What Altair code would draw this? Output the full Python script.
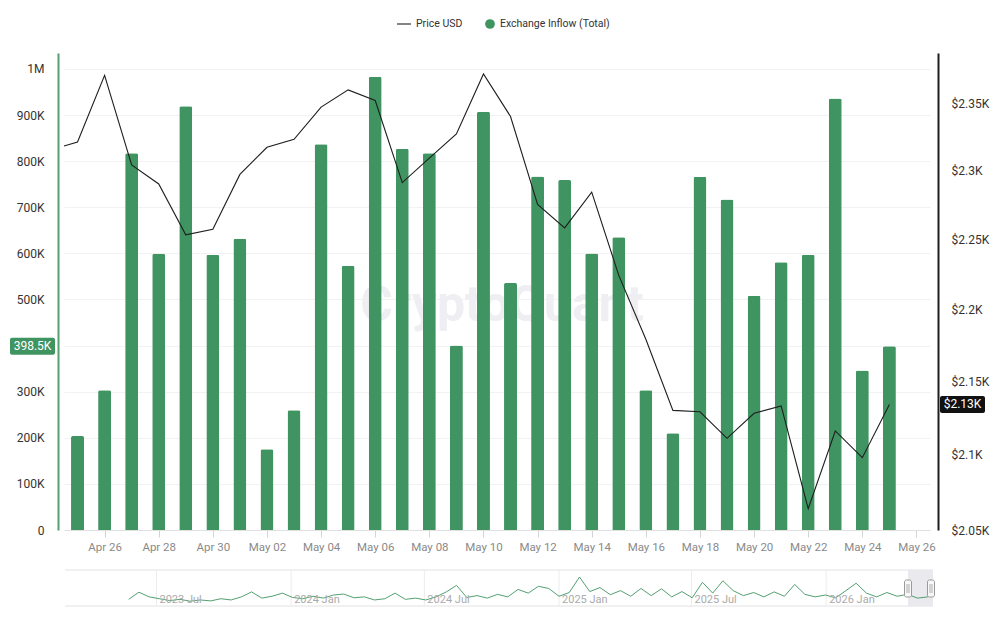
import altair as alt
import pandas as pd

FONT = "Roboto"
GREEN = "#3f9462"

# ---- daily exchange inflow (total) ----
inflow_days = pd.date_range("2026-04-25", "2026-05-25", freq="D").strftime("%Y-%m-%dT00:00:00Z").tolist()
inflow_values = [
    204000, 303000, 817000, 599000, 919000, 597000, 632000, 175000, 260000, 837000,
    573000, 983000, 827000, 817000, 400000, 907000, 536000, 767000, 759000, 600000,
    635000, 303000, 210000, 766000, 717000, 508000, 581000, 597000, 936000, 346000,
    398500,
]

# ---- price (USD) ----
price_times = ["2026-04-24T12:00:00Z"] + inflow_days
price_values = [
    2318, 2321, 2371, 2304, 2290, 2253, 2257, 2297, 2317, 2323, 2347,
    2360, 2352, 2291, 2309, 2327, 2372, 2340, 2275, 2258, 2284, 2224,
    2179, 2130, 2129, 2111, 2128, 2133, 2064, 2116, 2098, 2134,
]

# ---- long-range overview series (thousands) ----
nav_values = [
    375, 950, 575, 425, 275, 375, 225, 325, 250, 425, 325, 575, 975, 475, 625, 875,
    525, 425, 625, 475, 725, 800, 500, 575, 325, 425, 875, 375, 475, 325, 575, 975,
    1500, 525, 675, 475, 775, 575, 1175, 875, 1425, 1250, 625, 925, 2175, 1000, 1325,
    750, 1075, 625, 1250, 675, 1225, 575, 1000, 500, 1750, 875, 1875, 1075, 675, 925,
    575, 975, 625, 1575, 775, 575, 725, 500, 1075, 1675, 875, 575, 925, 625, 775, 475,
    575,
]
nav_times = pd.date_range("2023-05-24", periods=len(nav_values), freq="14D").strftime("%Y-%m-%dT00:00:00Z").tolist()
nav_label_text = ["2023 Jul", "2024 Jan", "2024 Jul", "2025 Jan", "2025 Jul", "2026 Jan"]
nav_label_dates = ["2023-07-01T00:00:00Z", "2024-01-01T00:00:00Z", "2024-07-01T00:00:00Z",
                   "2025-01-01T00:00:00Z", "2025-07-01T00:00:00Z", "2026-01-01T00:00:00Z"]

W, H = 866, 477

inflow_df = pd.DataFrame({"day": inflow_days, "inflow": inflow_values})
price_df = pd.DataFrame({"t": price_times, "price": price_values})
last_inflow = pd.DataFrame({"inflow": [inflow_values[-1]]})
last_price = pd.DataFrame({"price": [price_values[-1]]})
nav_df = pd.DataFrame({"t": nav_times, "v": nav_values})
nav_lab_df = pd.DataFrame({"t": nav_label_dates, "label": nav_label_text})
one = alt.Data(values=[{}])

x_scale = alt.Scale(
    type="utc", padding=0,
    domain=[alt.DateTime(year=2026, month=4, date=24, hours=12, utc=True),
            alt.DateTime(year=2026, month=5, date=26, hours=12, utc=True)],
)
x_ticks = [alt.DateTime(year=2026, month=m, date=d, utc=True)
           for m, d in [(4, 26), (4, 28), (4, 30), (5, 2), (5, 4), (5, 6), (5, 8), (5, 10),
                        (5, 12), (5, 14), (5, 16), (5, 18), (5, 20), (5, 22), (5, 24), (5, 26)]]

inflow_scale = alt.Scale(domain=[0, 1034700], nice=False, zero=True, padding=0)
price_scale = alt.Scale(type="log", domain=[2050, 2388], nice=False)

# ---- inflow bars with left axis (the 400K label sits under the last-value badge) ----
bars = alt.Chart(inflow_df).mark_bar(
    size=13, color=GREEN, cornerRadiusTopLeft=2, cornerRadiusTopRight=2
).encode(
    x=alt.X("day:T", scale=x_scale, axis=alt.Axis(
        values=x_ticks, labelExpr="utcFormat(datum.value, '%b %d')", title=None, grid=False,
        tickSize=7, tickColor="#d4d4d4", domainColor="#e0e0e0", labelColor="#8a8a8a",
        labelFontSize=11.5, labelPadding=4, labelFont=FONT)),
    y=alt.Y("inflow:Q", scale=inflow_scale, axis=alt.Axis(
        orient="left", values=list(range(0, 1000001, 100000)),
        labelExpr="datum.value == 400000 ? '' : datum.value >= 1000000 ? '1M' : datum.value == 0 ? '0' : format(datum.value / 1000, 'd') + 'K'",
        title=None, ticks=False, offset=6, domainColor="#55a070", domainWidth=2,
        grid=True, gridColor="#f2f2f2", labelColor="#333333", labelFontSize=12,
        labelPadding=14, labelFont=FONT)),
)

badge_l = alt.Chart(last_inflow).mark_rect(
    color=GREEN, cornerRadius=2, yOffset=-8.5, y2Offset=8.5
).encode(
    x=alt.value(-54), x2=alt.value(-9),
    y=alt.Y("inflow:Q", scale=inflow_scale, axis=None), y2="inflow:Q",
)
badge_l_text = alt.Chart(last_inflow).transform_calculate(
    label="format(datum.inflow / 1000, '.1f') + 'K'"
).mark_text(color="white", fontSize=12, font=FONT, align="center", baseline="middle").encode(
    x=alt.value(-31.5), y=alt.Y("inflow:Q", scale=inflow_scale, axis=None), text="label:N",
)

# ---- price line with right (log) axis ----
price_line = alt.Chart(price_df).mark_line(color="#1e1e1e", strokeWidth=1.1).encode(
    x=alt.X("t:T", scale=x_scale, axis=None),
    y=alt.Y("price:Q", scale=price_scale, axis=alt.Axis(
        orient="right", values=[2050, 2100, 2150, 2200, 2250, 2300, 2350],
        labelExpr="'$' + format(datum.value / 1000, '.2~f') + 'K'",
        title=None, ticks=False, grid=False, offset=8, domainColor="#1e1e1e", domainWidth=2,
        labelColor="#333333", labelFontSize=12, labelPadding=13, labelFont=FONT)),
)
badge_r = alt.Chart(last_price).mark_rect(
    color="#111111", cornerRadius=2, yOffset=-8.5, y2Offset=8.5
).encode(
    x=alt.value(876), x2=alt.value(921),
    y=alt.Y("price:Q", scale=price_scale, axis=None), y2="price:Q",
)
badge_r_text = alt.Chart(last_price).transform_calculate(
    label="'$' + format(datum.price / 1000, '.2f') + 'K'"
).mark_text(color="white", fontSize=12, font=FONT, align="center", baseline="middle").encode(
    x=alt.value(898.5), y=alt.Y("price:Q", scale=price_scale, axis=None), text="label:N",
)

# ---- overview navigator ----
NAV_TOP, NAV_BOT = 517, 553
nav_x = alt.Scale(type="utc", domain=[alt.DateTime(year=2023, month=2, date=26, utc=True),
                                      alt.DateTime(year=2026, month=5, date=27, utc=True)],
                  range=[1, 869])
nav_y = alt.Scale(domain=[0, 2175], range=[551, 524], nice=False)

nav_frame = [
    alt.Chart(one).mark_rule(color="#e2e2e2").encode(
        x=alt.value(1), x2=alt.value(869), y=alt.value(yy))
    for yy in (NAV_TOP, NAV_BOT)
]
nav_shade = alt.Chart(one).mark_rect(color="#e9e9ee").encode(
    x=alt.value(844), x2=alt.value(869), y=alt.value(NAV_TOP), y2=alt.value(NAV_BOT))
nav_grid = alt.Chart(nav_lab_df).mark_rule(color="#ececec").encode(
    x=alt.X("t:T", scale=nav_x, axis=None), y=alt.value(NAV_TOP), y2=alt.value(NAV_BOT))
nav_line = alt.Chart(nav_df).mark_line(color=GREEN, strokeWidth=0.9).encode(
    x=alt.X("t:T", scale=nav_x, axis=None), y=alt.Y("v:Q", scale=nav_y, axis=None))
nav_labels = alt.Chart(nav_lab_df).mark_text(
    align="left", baseline="middle", dx=3, fontSize=11, font=FONT, color="#ababab"
).encode(x=alt.X("t:T", scale=nav_x, axis=None), y=alt.value(547), text="label:N")

handles = []
for cx in (844, 867):
    handles.append(alt.Chart(one).mark_rect(
        fill="#f8f8f8", stroke="#9a9a9a", strokeWidth=1, cornerRadius=2
    ).encode(x=alt.value(cx - 3.5), x2=alt.value(cx + 3.5), y=alt.value(527), y2=alt.value(544)))
    for dx in (-1, 1):
        handles.append(alt.Chart(one).mark_rule(color="#9a9a9a", strokeWidth=0.8).encode(
            x=alt.value(cx + dx), y=alt.value(531), y2=alt.value(540)))

# ---- legend and watermark ----
LEG_Y = -29
legend = [
    alt.Chart(one).mark_rule(color="#333333", strokeWidth=1.2).encode(
        x=alt.value(333), x2=alt.value(347), y=alt.value(LEG_Y)),
    alt.Chart(one).mark_text(align="left", baseline="middle", fontSize=10.5, font=FONT, color="#333333").encode(
        x=alt.value(352), y=alt.value(LEG_Y), text=alt.value("Price USD")),
    alt.Chart(one).mark_point(filled=True, shape="circle", size=95, color=GREEN, opacity=1).encode(
        x=alt.value(426), y=alt.value(LEG_Y)),
    alt.Chart(one).mark_text(align="left", baseline="middle", fontSize=10.5, font=FONT, color="#333333").encode(
        x=alt.value(436), y=alt.value(LEG_Y), text=alt.value("Exchange Inflow (Total)")),
]
watermark = alt.Chart(one).mark_text(
    fontSize=50, fontWeight=700, font=FONT, color="#eeeef3", align="center", baseline="middle"
).encode(x=alt.value(438), y=alt.value(253), text=alt.value("CryptoQuant"))

chart = alt.layer(
    watermark, bars, badge_l, badge_l_text, price_line, badge_r, badge_r_text,
    *nav_frame, nav_shade, nav_grid, nav_line, nav_labels, *handles, *legend,
).resolve_scale(
    x="independent", y="independent"
).properties(
    width=W, height=H,
    padding={"left": 64, "top": 53, "right": 70, "bottom": 99},
    autosize=alt.AutoSizeParams(type="none"),
    background="white",
).configure_view(stroke=None)

chart.save("out.html", embed_options={"renderer": "svg", "actions": False})
